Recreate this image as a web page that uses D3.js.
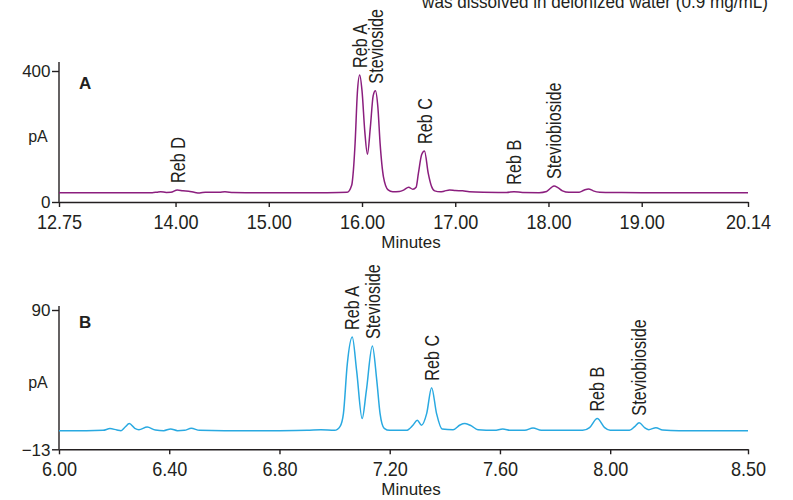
<!DOCTYPE html>
<html>
<head>
<meta charset="utf-8">
<script src="https://cdn.jsdelivr.net/npm/d3@7"></script>
<style>
  body { margin: 0; background: #fff; }
  svg text { font-family: "Liberation Sans", Arial, sans-serif; fill: #231f20; }
</style>
</head>
<body>
<div id="chart-area"></div>
<script>
// chromatogram A (pA vs minutes)
var timesA = [12.75, 13.00, 13.40, 13.75, 13.80, 13.84, 13.90, 13.95, 14.02, 14.08, 14.14, 14.20, 14.26, 14.32, 14.40, 14.47, 14.53, 14.62, 14.80, 15.20, 15.60, 15.84,
  15.89, 15.908, 15.926, 15.95, 15.975, 16.00, 16.03, 16.058, 16.09, 16.12, 16.144, 16.17, 16.194, 16.23, 16.28, 16.33,
  16.40, 16.45, 16.50, 16.545, 16.58, 16.605, 16.64, 16.67, 16.71, 16.745, 16.78, 16.84, 16.88, 16.94, 17.00, 17.08, 17.15, 17.30,
  17.55, 17.63, 17.72, 17.90, 17.98, 18.03, 18.06, 18.10, 18.15, 18.22, 18.33, 18.38, 18.43, 18.48, 18.55, 18.70, 19.00, 19.50, 20.14];
var valuesA = [28, 28, 28.5, 28.5, 30, 31.5, 29, 29.5, 37, 34, 33, 29.5, 27.5, 30, 30, 29.5, 31, 29, 28.5, 28, 28.5, 29.5,
  52, 98, 180, 333, 388, 340, 215, 146, 230, 325, 340, 290, 179, 77, 37, 31,
  32, 37, 45, 39, 45, 88, 145, 156, 88, 48, 34, 31, 33, 37, 35, 34, 31, 29.5,
  29, 31.5, 29, 28.5, 32, 44, 49, 44, 34, 29.5, 30, 36, 40, 34, 30, 29, 28.5, 28.5, 28.5];
var tickTimesA = [12.75, 14.00, 15.00, 16.00, 17.00, 18.00, 19.00, 20.14];
var tickValsA = [0, 400];
var peakNamesA = ["Reb D", "Reb A", "Stevioside", "Reb C", "Reb B", "Steviobioside"];
var peakTimesA = [14.02, 15.975, 16.144, 16.67, 17.63, 18.06];

// chromatogram B
var timesB = [6.00, 6.10, 6.16, 6.185, 6.21, 6.225, 6.24, 6.255, 6.275, 6.29, 6.32, 6.35, 6.38, 6.405, 6.43, 6.455, 6.48, 6.51, 6.60, 6.80, 6.90, 6.95, 7.00,
  7.02, 7.032, 7.046, 7.064, 7.08, 7.10, 7.115, 7.137, 7.153, 7.165, 7.18, 7.20, 7.26, 7.285, 7.30, 7.315, 7.334, 7.352, 7.37, 7.39,
  7.43, 7.455, 7.473, 7.495, 7.52, 7.58, 7.61, 7.64, 7.69, 7.72, 7.75, 7.90, 7.925, 7.953, 7.98, 8.00, 8.07, 8.09, 8.105, 8.125, 8.14, 8.166, 8.19, 8.25, 8.50];
var valuesB = [0.8, 0.8, 1, 2.3, 1.3, 0.8, 3.5, 6, 2.5, 1.5, 3.5, 1.2, 0.8, 2, 0.8, 1, 2.5, 1, 0.7, 0.8, 1, 1.5, 1,
  4, 13.4, 50, 70, 45, 9.7, 30, 63.4, 38, 13.4, 2.5, 1, 1, 5, 8.5, 4.8, 13.4, 32.6, 13.4, 2,
  1.5, 5, 6, 4.5, 1.5, 1, 2, 1, 1, 2.8, 1, 1, 3, 9.7, 3, 1, 1, 4, 6.7, 3, 1.5, 3, 1.2, 0.8, 0.8];
var tickTimesB = [6.00, 6.40, 6.80, 7.20, 7.60, 8.00, 8.50];
var tickValsB = [-13, 90];
var peakNamesB = ["Reb A", "Stevioside", "Reb C", "Reb B", "Steviobioside"];
var peakTimesB = [7.064, 7.137, 7.352, 7.953, 8.105];

var svg = d3.select("#chart-area").append("svg")
    .attr("width", 793)
    .attr("height", 500);

// the original uses a condensed face, so squeeze the glyphs a bit
function squeeze(sel, k) {
    sel.each(function() {
        var len = this.getComputedTextLength();
        d3.select(this).attr("textLength", len * k).attr("lengthAdjust", "spacingAndGlyphs");
    });
}

svg.append("text")
    .attr("x", 768)
    .attr("y", 8)
    .attr("text-anchor", "end")
    .style("font-size", "18px")
    .text("was dissolved in deionized water (0.9 mg/mL)")
    .call(squeeze, 0.95);

function drawPanel(opts) {
    var x = d3.scaleLinear().domain(opts.xDomain).range([59, 748]);
    var y = d3.scaleLinear().domain(opts.yDomain).range([opts.bottom, opts.top]);
    var g = svg.append("g");

    var xAxis = g.append("g")
        .attr("transform", "translate(0," + opts.bottom + ")")
        .call(d3.axisBottom(x).tickValues(opts.xTicks).tickFormat(d3.format(".2f")).tickSize(5).tickSizeOuter(0).tickPadding(7));
    var yAxis = g.append("g")
        .attr("transform", "translate(59,0)")
        .call(d3.axisLeft(y).tickValues(opts.yTicks).tickSize(7).tickSizeOuter(0).tickPadding(1.5));
    yAxis.select(".domain").remove();
    g.append("line")
        .attr("x1", 59).attr("x2", 59)
        .attr("y1", opts.bottom).attr("y2", opts.axisTop)
        .attr("stroke", "#231f20").attr("stroke-width", 1.4);

    g.selectAll(".domain, .tick line").attr("stroke", "#231f20").attr("stroke-width", 1.4);
    xAxis.selectAll(".tick text").style("font-size", "21px").attr("fill", "#231f20").call(squeeze, 0.86);
    yAxis.selectAll(".tick text").style("font-size", "17px").attr("fill", "#231f20").attr("dy", "0.34em");

    var pts = opts.times.map(function(t, i) { return [t, opts.values[i]]; });
    var line = d3.line()
        .x(function(d) { return x(d[0]); })
        .y(function(d) { return y(d[1]); })
        .curve(d3.curveMonotoneX);
    g.append("path")
        .datum(pts)
        .attr("d", line)
        .attr("fill", "none")
        .attr("stroke", opts.color)
        .attr("stroke-width", 1.5);

    g.selectAll(".peak")
        .data(opts.names)
        .enter()
        .append("text")
        .attr("class", "peak")
        .attr("transform", function(d, i) {
            var t = opts.peakTimes[i];
            var v = opts.values[opts.times.indexOf(t)];
            return "translate(" + x(t) + "," + (y(v) - 7) + ") rotate(-90)";
        })
        .attr("dy", "0.36em")
        .style("font-size", "20px")
        .text(function(d) { return d; })
        .call(squeeze, 0.81);

    g.append("text")
        .attr("x", 79)
        .attr("y", opts.top + 18)
        .style("font-weight", "bold")
        .style("font-size", "17px")
        .text(opts.letter);

    g.append("text")
        .attr("x", 38)
        .attr("y", opts.paY)
        .attr("text-anchor", "middle")
        .style("font-size", "16px")
        .text("pA");

    g.append("text")
        .attr("x", 411)
        .attr("y", opts.bottom + 46)
        .attr("text-anchor", "middle")
        .style("font-size", "17px")
        .text("Minutes");
}

drawPanel({
    xDomain: [12.75, 20.14], yDomain: [0, 400], top: 71, bottom: 202, axisTop: 62,
    xTicks: tickTimesA, yTicks: tickValsA, times: timesA, values: valuesA,
    names: peakNamesA, peakTimes: peakTimesA, color: "#8b1e7e", letter: "A", paY: 142
});

drawPanel({
    xDomain: [6.00, 8.50], yDomain: [-13, 90], top: 310, bottom: 449.3, axisTop: 306,
    xTicks: tickTimesB, yTicks: tickValsB, times: timesB, values: valuesB,
    names: peakNamesB, peakTimes: peakTimesB, color: "#29a9e1", letter: "B", paY: 388
});
</script>
</body>
</html>
